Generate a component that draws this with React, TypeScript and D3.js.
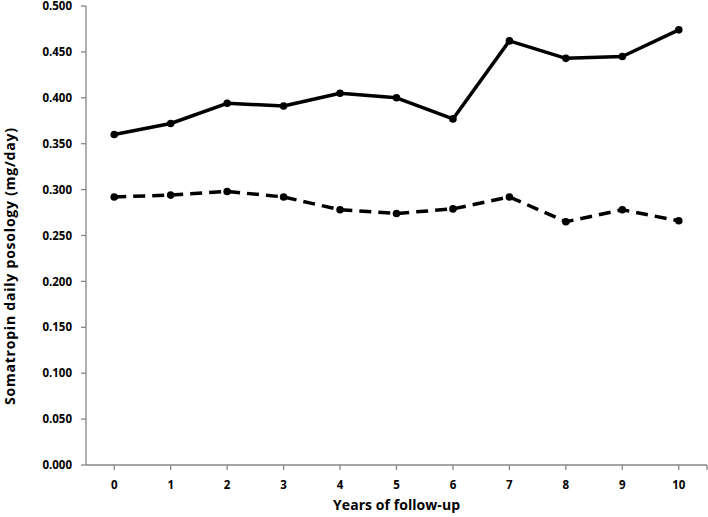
import React from "react";
import * as d3 from "d3";

const years = [0, 1, 2, 3, 4, 5, 6, 7, 8, 9, 10];
const solidSeries = [0.360, 0.372, 0.394, 0.391, 0.405, 0.400, 0.377, 0.462, 0.443, 0.445, 0.474];
const dashedSeries = [0.292, 0.294, 0.298, 0.292, 0.278, 0.274, 0.279, 0.292, 0.265, 0.278, 0.266];
const yTicks = [0, 0.05, 0.1, 0.15, 0.2, 0.25, 0.3, 0.35, 0.4, 0.45, 0.5];

const W = 708;
const H = 517;
const FONT = "'Open Sans', sans-serif";
const FS = 11.5;
const TFS = 14;

export default function App() {
  const x = d3.scaleLinear().domain([-0.5, 10.5]).range([86, 707]);
  const y = d3.scaleLinear().domain([0, 0.5]).range([465, 6]);
  const line = d3
    .line<number>()
    .x((_, i) => x(years[i]))
    .y((d) => y(d));
  const axisColor = "#868686";
  return (
    <svg
      width={W}
      height={H}
      style={{ position: "absolute", left: 0, top: 0, background: "#fff" }}
    >
      {/* y axis */}
      <line x1={x(-0.5)} x2={x(-0.5)} y1={y(0)} y2={y(0.5)} stroke={axisColor} strokeWidth={1.3} />
      {yTicks.map((t) => (
        <g key={t}>
          <line x1={x(-0.5) - 5} x2={x(-0.5)} y1={y(t)} y2={y(t)} stroke={axisColor} strokeWidth={1.3} />
          <text
            x={72}
            y={y(t)}
            dy="0.36em"
            textAnchor="end"
            fontFamily={FONT}
            fontWeight={700}
            fontSize={FS}
            fill="#000"
          >
            {d3.format(".3f")(t)}
          </text>
        </g>
      ))}
      {/* x axis */}
      <line x1={x(-0.5)} x2={x(10.5)} y1={y(0)} y2={y(0)} stroke={axisColor} strokeWidth={1.3} />
      {[...years, 10.5].map((t) => (
        <line key={"xt" + t} x1={x(t)} x2={x(t)} y1={y(0)} y2={y(0) + 5} stroke={axisColor} strokeWidth={1.3} />
      ))}
      {years.map((t) => (
        <text
          key={"xl" + t}
          x={x(t)}
          y={485}
          dy="0.36em"
          textAnchor="middle"
          fontFamily={FONT}
          fontWeight={700}
          fontSize={FS}
          fill="#000"
        >
          {t}
        </text>
      ))}
      <text
        x={396.5}
        y={505}
        dy="0.36em"
        textAnchor="middle"
        fontFamily={FONT}
        fontWeight={700}
        fontSize={TFS}
        textLength={127}
        fill="#000"
      >
        Years of follow-up
      </text>
      <text
        transform={`translate(10, 266.5) rotate(-90)`}
        dy="0.36em"
        textAnchor="middle"
        fontFamily={FONT}
        fontWeight={700}
        fontSize={TFS}
        textLength={277}
        fill="#000"
      >
        Somatropin daily posology (mg/day)
      </text>
      {/* series */}
      <path d={line(solidSeries) || ""} fill="none" stroke="#000" strokeWidth={3.5} strokeLinejoin="round" />
      <path
        d={line(dashedSeries) || ""}
        fill="none"
        stroke="#000"
        strokeWidth={3.5}
        strokeDasharray="12,7"
        strokeLinejoin="round"
      />
      {solidSeries.map((v, i) => (
        <circle key={"s" + i} cx={x(years[i])} cy={y(v)} r={3.8} fill="#000" />
      ))}
      {dashedSeries.map((v, i) => (
        <circle key={"d" + i} cx={x(years[i])} cy={y(v)} r={3.8} fill="#000" />
      ))}
    </svg>
  );
}
